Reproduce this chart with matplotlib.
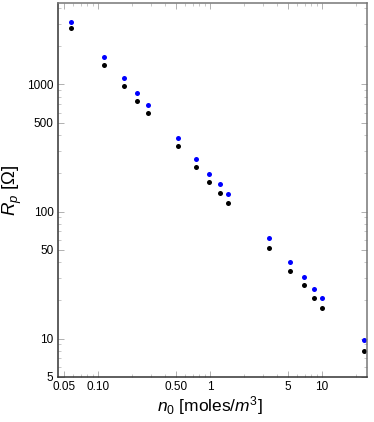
"""
Polarization resistance vs concentration
"""
import matplotlib.pyplot as plt
from matplotlib.ticker import FixedLocator, NullFormatter, LogLocator

plt.rcParams['font.family'] = ['Liberation Sans', 'DejaVu Sans']
plt.rcParams['mathtext.fontset'] = 'custom'
plt.rcParams['mathtext.it'] = 'Liberation Sans:italic'
plt.rcParams['mathtext.rm'] = 'Liberation Sans'

n0 = [0.057, 0.113, 0.17, 0.224, 0.279, 0.52, 0.75, 0.99, 1.22, 1.46,
      3.34, 5.18, 6.95, 8.54, 10.07, 23.6]
rp_blue = [3098, 1645, 1127, 855, 689, 377, 261, 199, 164, 138,
           61.6, 40.2, 30.4, 24.5, 20.8, 9.8]
rp_black = [2766, 1417, 970, 744, 595, 327, 226, 172, 141, 117,
            52, 33.9, 26.2, 20.8, 17.4, 8.05]

xticks = [0.05, 0.1, 0.5, 1, 5, 10]
xticklabels = ["0.05", "0.10", "0.50", "1", "5", "10"]
yticks = [5, 10, 50, 100, 500, 1000]
yticklabels = ["5", "10", "50", "100", "500", "1000"]

fig = plt.figure(figsize=(3.74, 4.22), dpi=100)
ax = fig.add_axes([0.154, 0.107, 0.827, 0.885])

ax.plot(n0, rp_blue, 'o', color='#0000ff', ms=3.6, mec='none')
ax.plot(n0, rp_black, 'o', color='black', ms=3.6, mec='none')

ax.set_xscale('log')
ax.set_yscale('log')
ax.set_xlim(0.0437, 25.2)
ax.set_ylim(5, 4350)

ax.xaxis.set_major_locator(FixedLocator(xticks))
ax.set_xticklabels(xticklabels)
ax.yaxis.set_major_locator(FixedLocator(yticks))
ax.set_yticklabels(yticklabels)
ax.xaxis.set_minor_locator(LogLocator(base=10, subs=range(1, 10)))
ax.yaxis.set_minor_locator(LogLocator(base=10, subs=range(1, 10)))
ax.xaxis.set_minor_formatter(NullFormatter())
ax.yaxis.set_minor_formatter(NullFormatter())

ax.tick_params(which='both', direction='in', top=True, right=True,
               color='#b0b0b0', labelsize=8.5, pad=3)
ax.tick_params(which='major', length=4, width=0.7)
ax.tick_params(which='minor', length=2, width=0.5)

for side in ['left', 'bottom']:
    ax.spines[side].set_color('#333333')
    ax.spines[side].set_linewidth(1.1)
for side in ['top', 'right']:
    ax.spines[side].set_color('#777777')
    ax.spines[side].set_linewidth(1.1)

ax.set_xlabel(r'$n_0$ [moles/$m^3$]', fontsize=12.5)
ax.xaxis.set_label_coords(0.493, -0.045)
ax.set_ylabel(r'$R_p$ [Ω]', fontsize=13.5)
ax.yaxis.set_label_coords(-0.11, 0.5)

fig.savefig('out.png', dpi=100)
